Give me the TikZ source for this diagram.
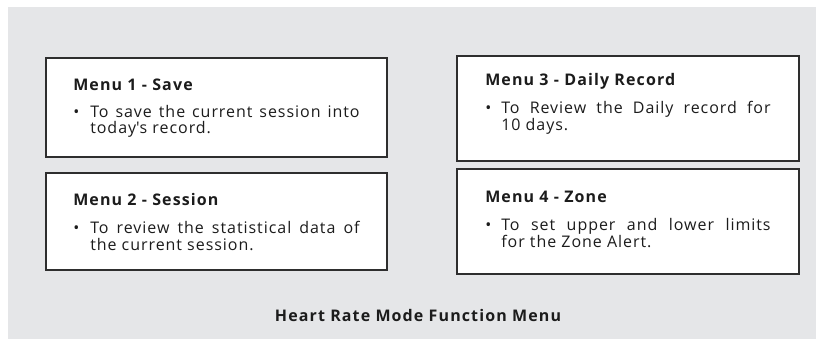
\documentclass[tikz,border=0pt]{standalone}
\usepackage{fontspec}
\setmainfont{Open Sans}[LetterSpace=6]
\newfontfamily\ttlfont{Open Sans}[LetterSpace=7]
\definecolor{bgray}{HTML}{E5E6E8}
\definecolor{bord}{HTML}{2E2E2E}
\definecolor{ink}{HTML}{1C1C1C}
\begin{document}
\begin{tikzpicture}[x=0.75pt,y=-0.75pt,
  menubox/.style={draw=bord,line width=1.4pt,fill=white,inner sep=0pt},
  ttl/.style={anchor=base west,inner sep=0pt,text=ink,font=\fontsize{12}{14}\selectfont\ttlfont\bfseries},
  txt/.style={anchor=base west,inner sep=0pt,text=ink,font=\fontsize{12}{14}\selectfont},
  captxt/.style={anchor=base,inner sep=0pt,text=ink,font=\fontsize{12}{14}\selectfont\ttlfont\bfseries}]
\useasboundingbox (0,0) rectangle (816,339);
\fill[bgray] (8,7) rectangle (816,339);
% boxes
\node[menubox,minimum width=255.75pt,minimum height=74.25pt] (m1) at (216.5,107.5) {};
\node[menubox,minimum width=255.75pt,minimum height=72.75pt] (m2) at (216.5,221.5) {};
\node[menubox,minimum width=256.5pt,minimum height=78.75pt] (m3) at (628,108.5) {};
\node[menubox,minimum width=256.5pt,minimum height=78.75pt] (m4) at (628,221.5) {};
% box 1
\node[ttl] (t1) at (73,90) {Menu 1 - Save};
\node[txt] (b1) at (73,117) {•};
\node[txt] (l11) at (90,117) {\makebox[202pt][s]{To save the current session into}};
\node[txt] (l12) at (90,133.5) {today\textquotesingle s record.};
% box 2
\node[ttl] (t2) at (73,205) {Menu 2 - Session};
\node[txt] (b2) at (73,233) {•};
\node[txt] (l21) at (90,233) {\makebox[202pt][s]{To review the statistical data of}};
\node[txt] (l22) at (90,250) {the current session.};
% box 3
\node[ttl] (t3) at (485,85) {Menu 3 - Daily Record};
\node[txt] (b3) at (485,113) {•};
\node[txt] (l31) at (501,113) {\makebox[202pt][s]{To Review the Daily record for}};
\node[txt] (l32) at (501,130) {10 days.};
% box 4
\node[ttl] (t4) at (485,202) {Menu 4 - Zone};
\node[txt] (b4) at (485,230) {•};
\node[txt] (l41) at (501,230) {\makebox[202pt][s]{To set upper and lower limits}};
\node[txt] (l42) at (501,247) {for the Zone Alert.};
% caption
\node[captxt] (c) at (418,321.5) {Heart Rate Mode Function Menu};
\end{tikzpicture}
\end{document}
